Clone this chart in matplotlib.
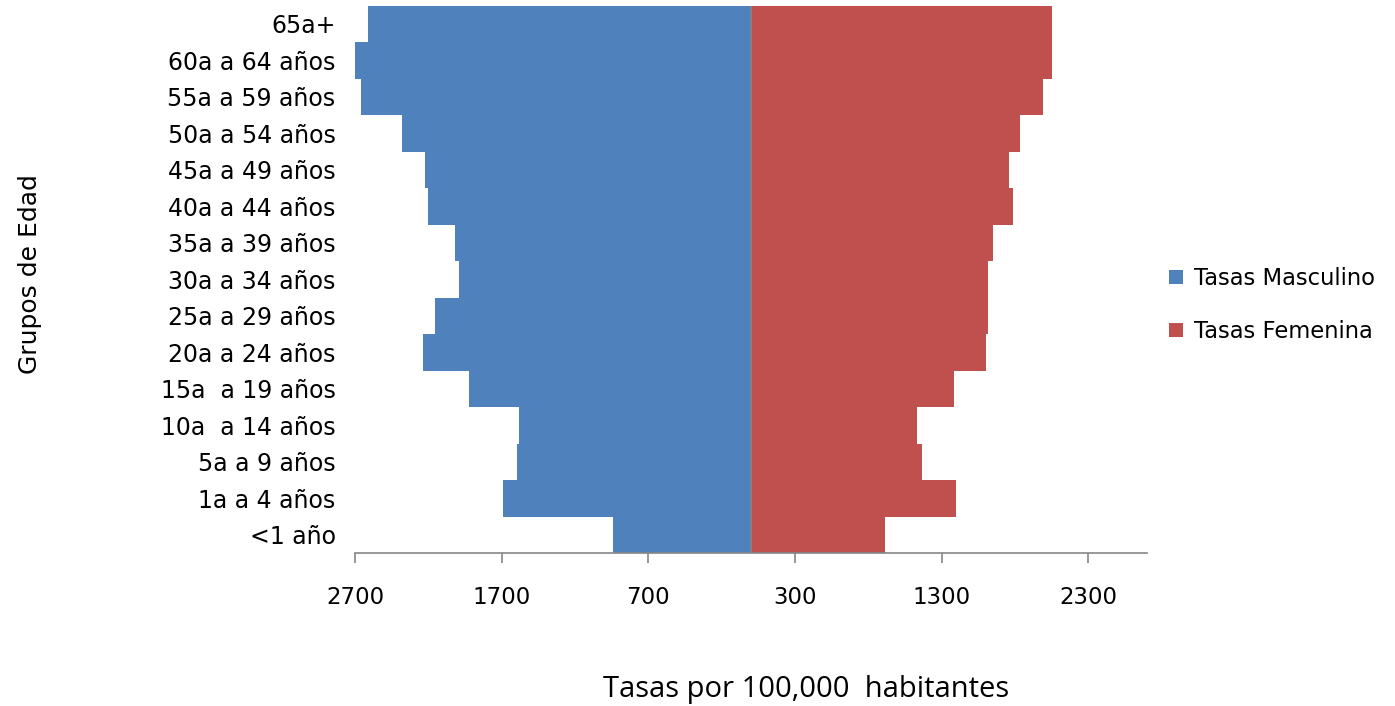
import matplotlib.pyplot as plt
import numpy as np

grupos = ['<1 año', '1a a 4 años', '5a a 9 años', '10a  a 14 años', '15a  a 19 años',
          '20a a 24 años', '25a a 29 años', '30a a 34 años', '35a a 39 años',
          '40a a 44 años', '45a a 49 años', '50a a 54 años', '55a a 59 años',
          '60a a 64 años', '65a+']
masculino = [942, 1692, 1598, 1581, 1925, 2237, 2157, 1988, 2018, 2205, 2221, 2378, 2659, 2707, 2611]
femenino = [913, 1398, 1163, 1134, 1382, 1601, 1617, 1617, 1647, 1789, 1756, 1834, 1991, 2053, 2053]
ticks = [-2700, -1700, -700, 300, 1300, 2300]

azul = '#4F81BD'
rojo = '#C0504D'
gris = '#868686'

fig = plt.figure(figsize=(13.95, 7.06), dpi=100)
ax = fig.add_axes([355/1395, 1-553/706, (1147-355)/1395, (553-5.7)/706])

y = np.arange(len(grupos))
ax.barh(y, -np.array(masculino), height=1.0, color=azul, label='Tasas Masculino')
ax.barh(y, femenino, height=1.0, color=rojo, label='Tasas Femenina')
ax.axvline(0, color=gris, lw=1.2)

ax.set_xlim(-2700, 2700)
ax.set_ylim(-0.5, len(grupos)-0.5)
ax.set_xticks(ticks)
ax.set_xticklabels([str(abs(t)) for t in ticks], fontsize=16.5)
ax.set_yticks(y)
ax.set_yticklabels(grupos, fontsize=17)
ax.tick_params(axis='y', length=0, pad=14)
ax.tick_params(axis='x', length=7, width=1.2, color=gris, pad=17)

for s in ['top', 'right', 'left']:
    ax.spines[s].set_visible(False)
ax.spines['bottom'].set_color(gris)
ax.spines['bottom'].set_linewidth(1.2)

fig.text(806/1395, 1-690/706, 'Tasas por 100,000  habitantes', fontsize=21,
         family='Open Sans', ha='center', va='center')
fig.text(30/1395, 1-274/706, 'Grupos de Edad', fontsize=18, rotation=90,
         ha='center', va='center')

ax.legend(loc='center left', bbox_to_anchor=(1149/1395, 1-305/706),
          bbox_transform=fig.transFigure, frameon=False, fontsize=16.3,
          handlelength=0.6, handleheight=0.6, handletextpad=0.5, labelspacing=1.35)

fig.savefig('out.png', dpi=100)
